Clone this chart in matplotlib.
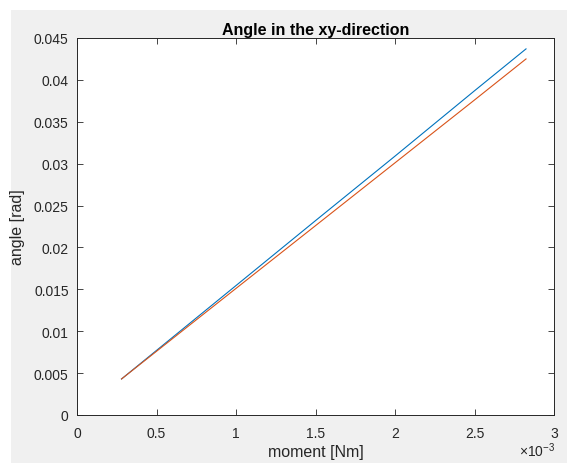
import matplotlib
matplotlib.use("Agg")
import matplotlib.pyplot as plt
from matplotlib.ticker import FuncFormatter, MultipleLocator
from matplotlib.patches import Rectangle

# Data
moment = [0.28e-3, 1.0e-3, 1.5e-3, 2.0e-3, 2.5e-3, 2.824e-3]
angle_blue = [0.0043, 0.01545, 0.0232, 0.0309, 0.0387, 0.0437]
angle_orange = [0.0043, 0.01511, 0.0226, 0.0301, 0.0376, 0.0425]

title = "Angle in the xy-direction"
xlabel = "moment [Nm]"
ylabel = "angle [rad]"

plt.rcParams['font.family'] = ['Liberation Sans', 'DejaVu Sans']
plt.rcParams['mathtext.fontset'] = 'custom'
plt.rcParams['mathtext.rm'] = 'Liberation Sans'

W, H = 567, 464
fig = plt.figure(figsize=(W / 100, H / 100), dpi=100)
fig.patch.set_facecolor('white')
fig.patches.append(Rectangle((11 / W, 0), (W - 11) / W, (H - 11) / H,
                             transform=fig.transFigure, facecolor='#F0F0F0',
                             edgecolor='none', zorder=-10))

ax = fig.add_axes([77 / W, (H - 416) / H, (554 - 77) / W, (416 - 39) / H])
ax.set_facecolor('white')

ax.plot(moment, angle_blue, color='#0072BD', lw=0.8)
ax.plot(moment, angle_orange, color='#D95319', lw=0.8)

ax.set_xlim(0, 3e-3)
ax.set_ylim(0, 0.045)
ax.xaxis.set_major_locator(MultipleLocator(0.5e-3))
ax.yaxis.set_major_locator(MultipleLocator(0.005))
ax.xaxis.set_major_formatter(FuncFormatter(lambda v, p: '%g' % round(v * 1e3, 6)))
ax.yaxis.set_major_formatter(FuncFormatter(lambda v, p: '%g' % round(v, 6)))

tc = '#262626'
ax.tick_params(direction='in', length=4, width=0.6, top=True, right=True,
               colors=tc, labelsize=10, labelcolor=tc)
ax.tick_params(axis='x', pad=8)
ax.tick_params(axis='y', pad=6)
for s in ax.spines.values():
    s.set_color(tc)
    s.set_linewidth(0.7)

ax.set_title(title, fontsize=11.5, fontweight='bold', color='black', pad=3)
ax.set_xlabel(xlabel, fontsize=11.5, color=tc, labelpad=3)
ax.set_ylabel(ylabel, fontsize=11.5, color=tc, labelpad=6)

ax.text(1.003, -0.093, r'$\times$10$^{-3}$', transform=ax.transAxes,
        ha='right', va='center', fontsize=10, color=tc)

fig.savefig('out.png', dpi=100, facecolor=fig.get_facecolor())
